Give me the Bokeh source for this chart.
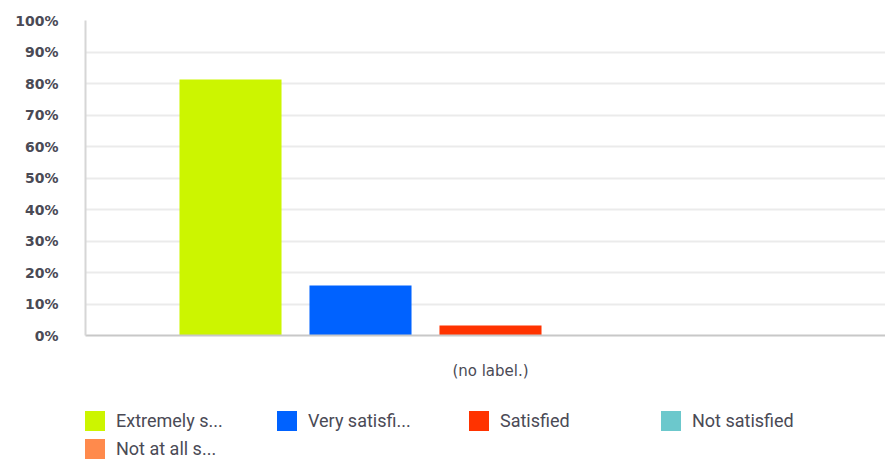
from bokeh.plotting import figure
from bokeh.layouts import column
from bokeh.models import ColumnDataSource, FixedTicker, PrintfTickFormatter, Legend, LegendItem
from bokeh.embed import file_html
from bokeh.resources import INLINE

categories = ["Extremely s...", "Very satisfi...", "Satisfied", "Not satisfied", "Not at all s..."]
values = [81.3, 15.9, 3.2, 0.0, 0.0]
colors = ["#ccf500", "#0062ff", "#ff3300", "#6cc8cc", "#ff8a4c"]
group_label = "(no label.)"
y_ticks = [0, 10, 20, 30, 40, 50, 60, 70, 80, 90, 100]

xs = list(range(len(categories)))
center = (len(categories) - 1) / 2

src = ColumnDataSource(dict(x=xs, top=values, cat=categories, color=colors))

p = figure(width=885, height=395, output_backend="svg", toolbar_location=None,
           x_range=(-1.1154, 5.0385), y_range=(0, 100),
           min_border_left=85, min_border_right=0, min_border_top=20, min_border_bottom=60)
p.outline_line_color = None
p.background_fill_color = "white"

r = p.vbar(x="x", top="top", width=0.785, bottom=0, source=src, fill_color="color",
           line_color=None)

# axes
p.yaxis.ticker = FixedTicker(ticks=y_ticks)
p.yaxis.formatter = PrintfTickFormatter(format="%d%%")
p.yaxis.major_tick_line_color = None
p.yaxis.minor_tick_line_color = None
p.yaxis.axis_line_color = "#d6d6d6"
p.yaxis.axis_line_width = 2
p.yaxis.major_label_standoff = 21
p.yaxis.major_label_text_font = "DejaVu Sans"
p.yaxis.major_label_text_font_size = "14px"
p.yaxis.major_label_text_font_style = "bold"
p.yaxis.major_label_text_color = "#4a4a55"

p.xaxis.ticker = FixedTicker(ticks=[center])
p.xaxis.major_label_overrides = {center: group_label}
p.xaxis.major_tick_line_color = None
p.xaxis.minor_tick_line_color = None
p.xaxis.axis_line_color = "#c8c8c8"
p.xaxis.axis_line_width = 2
p.xaxis.major_label_standoff = 20
p.xaxis.major_label_text_font = "DejaVu Sans"
p.xaxis.major_label_text_font_size = "15px"
p.xaxis.major_label_text_color = "#4a4a55"

p.xgrid.grid_line_color = None
p.ygrid.grid_line_color = "#ebebeb"
p.ygrid.grid_line_width = 2

# legend strip below the chart (its frame is aligned with the chart frame)
lg = figure(width=885, height=64, output_backend="svg", toolbar_location=None,
            x_range=(100, 101), y_range=(100, 101),
            x_axis_type=None, y_axis_type=None,
            min_border_left=85, min_border_right=0, min_border_top=0, min_border_bottom=0)
lg.outline_line_color = None
lg.xgrid.grid_line_color = None
lg.ygrid.grid_line_color = None
r2 = lg.vbar(x="x", top="top", width=0.785, bottom=0, source=src, fill_color="color",
             line_color=None)

legend = Legend(items=[LegendItem(label=c, renderers=[r2], index=i) for i, c in enumerate(categories)],
                location=(-3, -2), orientation="horizontal", ncols=4)
legend.glyph_width = 25
legend.glyph_height = 25
legend.label_standoff = 9
legend.label_width = 155
legend.spacing = 3
legend.padding = 0
legend.margin = 0
legend.border_line_color = None
legend.background_fill_color = None
legend.label_text_font = "Roboto"
legend.label_text_font_size = "18px"
legend.label_text_color = "#4a4a55"
lg.add_layout(legend, "center")

layout = column(p, lg, spacing=0)
open("out.html", "w").write(file_html(layout, INLINE))
